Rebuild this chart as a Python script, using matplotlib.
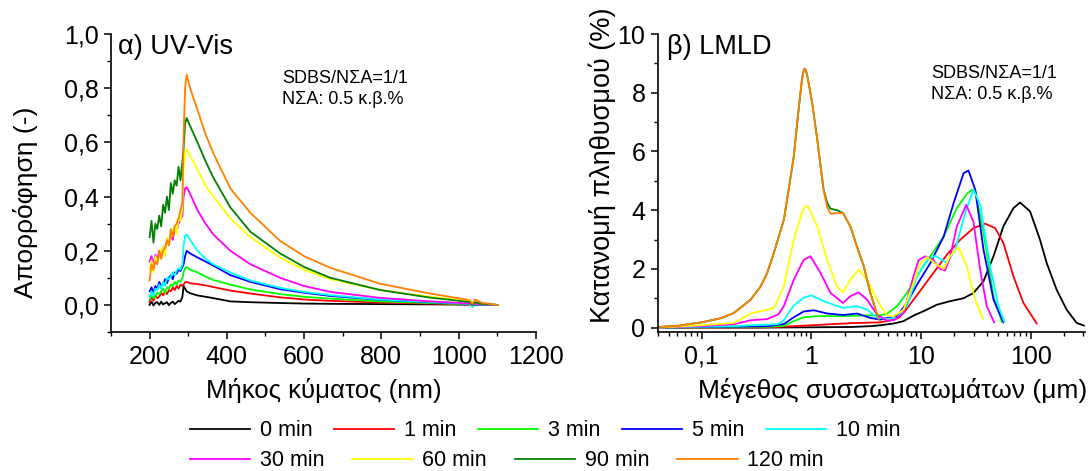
import matplotlib
matplotlib.use("Agg")
import matplotlib.pyplot as plt
from matplotlib.ticker import MultipleLocator, FixedLocator, LogLocator, FuncFormatter, NullFormatter

plt.rcParams['font.family'] = ['Liberation Sans', 'DejaVu Sans']

labels = ["0 min", "1 min", "3 min", "5 min", "10 min", "30 min", "60 min", "90 min", "120 min"]
colors = ["#000000", "#ff0000", "#00ff00", "#0000ff", "#00ffff", "#ff00ff", "#ffff00", "#008000", "#ff8000"]

# UV-Vis: wavelength (nm) and absorbance
wl = [200, 205, 210, 215, 220, 225, 230, 235, 240, 245, 250, 255, 260, 265, 270, 275, 280, 285,
      288, 292, 296, 305, 324, 345, 365, 409, 461, 538, 600, 668, 797, 926, 1020, 1030, 1036, 1042, 1060, 1100]
abs_0 = [0.0, 0.012, -0.002, 0.008, 0.01, 0.0, 0.012, 0.002, 0.006, 0.01, -0.001, 0.007, 0.012, 0.003, 0.009, 0.015, 0.012, 0.03,
         0.07, 0.06, 0.05, 0.043, 0.035, 0.03, 0.025, 0.013, 0.01, 0.007, 0.005, 0.004, 0.003, 0.002, 0.001, 0.001, 0.0, 0.0, 0.0, 0.0]
abs_1 = [0.01, 0.03, 0.015, 0.035, 0.025, 0.03, 0.045, 0.035, 0.05, 0.04, 0.055, 0.05, 0.065, 0.055, 0.07, 0.06, 0.075, 0.07,
         0.075, 0.083, 0.085, 0.08, 0.077, 0.072, 0.066, 0.053, 0.042, 0.028, 0.02, 0.015, 0.009, 0.005, 0.002, 0.002, -0.002, 0.001, 0.0, 0.0]
abs_3 = [0.02, 0.035, 0.025, 0.03, 0.045, 0.04, 0.05, 0.06, 0.045, 0.065, 0.06, 0.075, 0.07, 0.085, 0.075, 0.09, 0.085, 0.10,
         0.12, 0.135, 0.14, 0.13, 0.12, 0.105, 0.092, 0.075, 0.057, 0.04, 0.03, 0.023, 0.013, 0.007, 0.003, 0.002, -0.004, 0.002, 0.001, 0.0]
abs_5 = [0.05, 0.065, 0.045, 0.07, 0.06, 0.085, 0.07, 0.075, 0.095, 0.08, 0.10, 0.11, 0.095, 0.12, 0.115, 0.13, 0.125, 0.14,
         0.15, 0.18, 0.20, 0.19, 0.175, 0.16, 0.145, 0.11, 0.085, 0.058, 0.045, 0.033, 0.019, 0.01, 0.005, 0.004, -0.005, 0.003, 0.001, 0.0]
abs_10 = [0.03, 0.05, 0.035, 0.06, 0.055, 0.075, 0.06, 0.085, 0.07, 0.10, 0.095, 0.105, 0.12, 0.11, 0.125, 0.135, 0.13, 0.15,
          0.22, 0.255, 0.26, 0.24, 0.20, 0.17, 0.15, 0.12, 0.09, 0.063, 0.048, 0.036, 0.02, 0.011, 0.005, 0.004, -0.008, 0.003, 0.001, 0.0]
abs_30 = [0.16, 0.18, 0.15, 0.185, 0.17, 0.2, 0.19, 0.215, 0.2, 0.235, 0.225, 0.26, 0.24, 0.28, 0.27, 0.3, 0.315, 0.33,
          0.40, 0.43, 0.435, 0.41, 0.35, 0.30, 0.26, 0.20, 0.15, 0.10, 0.07, 0.048, 0.026, 0.013, 0.006, 0.005, 0.0, 0.005, 0.002, 0.0]
abs_60 = [0.13, 0.165, 0.12, 0.18, 0.16, 0.175, 0.2, 0.215, 0.18, 0.25, 0.22, 0.255, 0.27, 0.29, 0.26, 0.32, 0.31, 0.36,
          0.50, 0.56, 0.575, 0.55, 0.50, 0.44, 0.40, 0.32, 0.25, 0.175, 0.13, 0.095, 0.055, 0.03, 0.015, 0.012, 0.002, 0.012, 0.005, 0.0]
abs_90 = [0.25, 0.31, 0.23, 0.3, 0.28, 0.33, 0.29, 0.37, 0.34, 0.4, 0.35, 0.45, 0.41, 0.46, 0.44, 0.51, 0.46, 0.53,
          0.58, 0.67, 0.69, 0.66, 0.60, 0.53, 0.47, 0.36, 0.27, 0.19, 0.14, 0.10, 0.055, 0.027, 0.012, 0.01, 0.0, 0.01, 0.004, 0.0]
abs_120 = [0.09, 0.15, 0.13, 0.16, 0.15, 0.2, 0.17, 0.2, 0.21, 0.24, 0.22, 0.28, 0.25, 0.29, 0.3, 0.32, 0.35, 0.38,
           0.62, 0.80, 0.85, 0.80, 0.72, 0.63, 0.56, 0.43, 0.34, 0.236, 0.18, 0.137, 0.078, 0.042, 0.02, 0.015, 0.004, 0.02, 0.008, 0.0]

# LMLD: size (um) and population (%)
d_0 = [0.04, 0.3, 1.0, 2.26, 3.5, 4.24, 5.61, 6.9, 8.51, 10.5, 13.9, 18.3, 24.3, 29.9, 36.9, 45.5, 56.0, 69.1, 79.4,
       97.9, 120.7, 138.8, 171, 211, 260, 303]
v_0 = [0.0, 0.0, 0.01, 0.02, 0.05, 0.08, 0.14, 0.22, 0.41, 0.56, 0.78, 0.9, 1.0, 1.18, 1.58, 2.43, 3.45, 4.07, 4.26,
       3.96, 2.99, 2.2, 1.29, 0.61, 0.16, 0.07]
d_1 = [0.04, 0.4, 0.69, 1.13, 2.26, 4.24, 5.61, 6.22, 6.9, 8.51, 10.5, 12.9, 17.1, 22.6, 29.9, 38.2, 47.1, 56.0, 69.1, 85.2, 112.6]
v_1 = [0.0, 0.01, 0.05, 0.09, 0.15, 0.18, 0.27, 0.33, 0.5, 0.95, 1.41, 1.86, 2.48, 2.99, 3.39, 3.54, 3.39, 2.88, 1.75, 0.84, 0.14]
d_3 = [0.04, 0.1, 0.4, 0.56, 0.69, 0.85, 1.13, 1.94, 2.99, 4.24, 4.88, 6.0, 7.41, 9.14, 12.1, 16.0, 21.1, 26.0, 29.0,
       31.0, 36.9, 45.5, 54.1]
v_3 = [0.0, 0.01, 0.03, 0.06, 0.22, 0.35, 0.39, 0.39, 0.41, 0.42, 0.47, 0.73, 1.18, 1.75, 2.43, 3.1, 4.07, 4.55, 4.7,
       4.68, 3.22, 1.07, 0.2]
d_5 = [0.04, 0.1, 0.28, 0.4, 0.56, 0.69, 0.85, 1.05, 1.39, 1.94, 2.6, 3.44, 4.24, 4.88, 6.0, 7.41, 9.14, 12.1, 16.0,
       19.7, 24.3, 26.9, 31.0, 36.9, 45.5, 56.0]
v_5 = [0.0, 0.02, 0.04, 0.05, 0.12, 0.35, 0.55, 0.59, 0.48, 0.43, 0.48, 0.33, 0.27, 0.33, 0.39, 0.84, 1.46, 2.2, 3.1,
       4.24, 5.26, 5.35, 4.7, 2.65, 0.95, 0.18]
d_10 = [0.04, 0.1, 0.2, 0.28, 0.4, 0.5, 0.56, 0.62, 0.69, 0.85, 1.0, 1.29, 1.94, 2.6, 3.21, 3.96, 4.88, 6.0, 7.41, 9.14,
        11.3, 13.4, 17.1, 20.4, 25.1, 29.9, 34.4, 42.4, 50.5, 57.2]
v_10 = [0.0, 0.03, 0.05, 0.08, 0.1, 0.12, 0.25, 0.5, 0.75, 1.02, 1.1, 0.9, 0.67, 0.73, 0.61, 0.34, 0.3, 0.33, 0.73, 1.75,
        2.3, 2.45, 2.2, 2.65, 3.9, 4.7, 4.18, 2.09, 0.73, 0.2]
d_30 = [0.04, 0.1, 0.2, 0.28, 0.395, 0.5, 0.56, 0.69, 0.85, 0.98, 1.21, 1.49, 1.94, 2.26, 2.69, 3.21, 3.96, 4.88, 5.61,
        6.9, 8.51, 9.46, 10.9, 12.9, 14.9, 16.5, 18.3, 21.1, 25.7, 29.9, 34.4, 39.5, 46.1]
v_30 = [0.0, 0.05, 0.12, 0.25, 0.29, 0.45, 0.73, 1.63, 2.31, 2.43, 1.86, 1.18, 0.84, 1.07, 1.2, 0.95, 0.44, 0.24, 0.25,
        0.5, 1.75, 2.3, 2.43, 2.3, 2.0, 1.95, 2.4, 3.45, 4.18, 3.6, 1.97, 0.73, 0.18]
d_60 = [0.04, 0.1, 0.197, 0.279, 0.344, 0.455, 0.56, 0.69, 0.823, 0.88, 0.93, 0.98, 1.13, 1.39, 1.71, 1.94, 2.26, 2.69,
        3.21, 3.96, 4.24, 4.88, 5.61, 6.9, 8.51, 9.79, 11.3, 13.9, 16.0, 18.3, 21.8, 26.0, 31.0, 36.4]
v_60 = [0.0, 0.08, 0.16, 0.48, 0.56, 0.67, 1.4, 3.0, 3.95, 4.12, 4.13, 3.95, 3.45, 2.31, 1.4, 1.2, 1.63, 1.97,
        1.63, 0.95, 0.75, 0.42, 0.38, 0.61, 1.52, 2.2, 2.4, 2.14, 2.0, 2.43, 2.74, 2.09, 0.95, 0.3]
d_90 = [0.04, 0.06, 0.1, 0.15, 0.197, 0.279, 0.344, 0.395, 0.455, 0.56, 0.62, 0.69, 0.767, 0.823, 0.845, 0.864, 0.885,
        0.91, 0.946, 1.01, 1.13, 1.21, 1.29, 1.39, 1.49, 1.71, 1.94, 2.26, 2.6, 2.99, 3.44, 3.96, 4.1]
v_90 = [0.02, 0.06, 0.18, 0.32, 0.5, 0.95, 1.4, 1.86, 2.55, 3.67, 4.7, 5.83, 7.5, 8.5, 8.72, 8.82, 8.78, 8.62, 8.3,
        7.7, 6.4, 5.5, 4.7, 4.25, 4.05, 4.0, 3.9, 3.45, 2.75, 2.1, 1.18, 0.45, 0.3]
d_120 = d_90
v_120 = [0.02, 0.06, 0.18, 0.32, 0.5, 0.95, 1.4, 1.86, 2.55, 3.67, 4.7, 5.83, 7.5, 8.5, 8.72, 8.82, 8.78, 8.62, 8.3,
         7.7, 6.4, 5.5, 4.7, 4.1, 3.88, 3.9, 3.9, 3.45, 2.75, 2.1, 1.18, 0.45, 0.3]

uv_series = [abs_0, abs_1, abs_3, abs_5, abs_10, abs_30, abs_60, abs_90, abs_120]
ld_x = [d_0, d_1, d_3, d_5, d_10, d_30, d_60, d_90, d_120]
ld_y = [v_0, v_1, v_3, v_5, v_10, v_30, v_60, v_90, v_120]

fig = plt.figure(figsize=(10.91, 4.71), dpi=100)
ax1 = fig.add_axes([0.1017, 0.2951, 0.3895, 0.6327])
ax2 = fig.add_axes([0.6031, 0.2951, 0.3914, 0.6327])

lines = []
for y, c, lab in zip(uv_series, colors, labels):
    ln, = ax1.plot(wl, y, color=c, lw=1.3, label=lab)
    lines.append(ln)
for x, y, c in zip(ld_x, ld_y, colors):
    ax2.plot(x, y, color=c, lw=1.3)

comma = FuncFormatter(lambda v, p: f"{v:.1f}".replace(".", ","))

ax1.set_xlim(100, 1200)
ax1.set_ylim(-0.1, 1.0)
ax1.xaxis.set_major_locator(FixedLocator([200, 400, 600, 800, 1000, 1200]))
ax1.xaxis.set_minor_locator(MultipleLocator(100))
ax1.yaxis.set_major_locator(MultipleLocator(0.2))
ax1.yaxis.set_minor_locator(MultipleLocator(0.1))
ax1.yaxis.set_major_formatter(comma)

ax2.set_xscale("log")
ax2.set_xlim(0.04, 310)
ax2.set_ylim(-0.15, 10)
ax2.xaxis.set_major_locator(FixedLocator([0.1, 1, 10, 100]))
ax2.xaxis.set_major_formatter(FuncFormatter(lambda v, p: {0.1: "0,1", 1: "1", 10: "10", 100: "100"}.get(round(v, 1), "")))
ax2.xaxis.set_minor_locator(LogLocator(base=10, subs=[2, 3, 4, 5, 6, 7, 8, 9], numticks=20))
ax2.xaxis.set_minor_formatter(NullFormatter())
ax2.yaxis.set_major_locator(MultipleLocator(2))
ax2.yaxis.set_minor_locator(MultipleLocator(1))

for ax in (ax1, ax2):
    ax.spines["top"].set_visible(False)
    ax.spines["right"].set_visible(False)
    ax.spines["left"].set_linewidth(1.2)
    ax.spines["bottom"].set_linewidth(1.2)
    ax.tick_params(which="major", direction="out", length=5, width=1.1, labelsize=18, pad=4)
    ax.tick_params(which="minor", direction="out", length=3, width=1.0)

ax1.set_xlabel("Μήκος κύματος (nm)", fontsize=18.5)
ax1.set_ylabel("Απορρόφηση (-)", fontsize=19)
ax1.xaxis.set_label_coords(0.5, -0.155)
ax1.yaxis.set_label_coords(-0.172, 0.436)
ax2.set_xlabel("Μέγεθος συσσωματωμάτων (μm)", fontsize=19)
ax2.set_ylabel("Κατανομή πληθυσμού (%)", fontsize=19.5)
ax2.xaxis.set_label_coords(0.55, -0.155)
ax2.yaxis.set_label_coords(-0.098, 0.56)

ax1.text(0.017, 1.0, "α) UV-Vis", transform=ax1.transAxes, fontsize=19.5, va="top", ha="left")
ax2.text(0.02, 1.0, "β) LMLD", transform=ax2.transAxes, fontsize=19.5, va="top", ha="left")
ax1.text(0.402, 0.88, "SDBS/NΣΑ=1/1\nNΣΑ: 0.5 κ.β.%", transform=ax1.transAxes, fontsize=13,
         va="top", ha="left", linespacing=1.3)
ax2.text(0.64, 0.895, "SDBS/NΣΑ=1/1\nNΣΑ: 0.5 κ.β.%", transform=ax2.transAxes, fontsize=13,
         va="top", ha="left", linespacing=1.3)

leg_kw = dict(frameon=False, fontsize=15.5, handlelength=2.8, handletextpad=0.45,
              borderpad=0, borderaxespad=0, loc="center left")
fig.legend(lines[:5], labels[:5], ncol=5, columnspacing=1.0,
           bbox_to_anchor=(190 / 1091, 1 - 431 / 471), **leg_kw)
fig.legend(lines[5:], labels[5:], ncol=4, columnspacing=1.3,
           bbox_to_anchor=(190 / 1091, 1 - 461 / 471), **leg_kw)

fig.savefig("out.png", dpi=100)
